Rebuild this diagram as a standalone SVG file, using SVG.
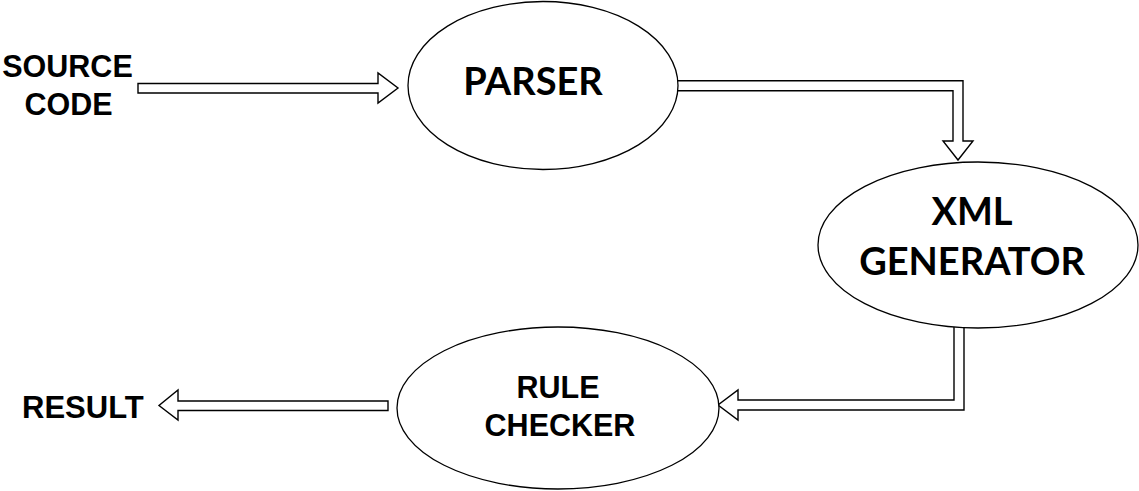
<svg xmlns="http://www.w3.org/2000/svg" width="1139" height="491" viewBox="0 0 1139 491">
<style>
.conn polygon { fill: #fff; stroke: #000; stroke-width: 1.4; stroke-linejoin: miter; }
.node ellipse { fill: #fff; stroke: #000; stroke-width: 1.3; }
.cal { font-family: Lato, "Open Sans", sans-serif; font-weight: bold; font-size: 38px; fill: #000; text-anchor: middle; }
.ari { font-family: "Liberation Sans", Arial, sans-serif; font-weight: bold; font-size: 30.5px; fill: #000; }
</style>
<rect width="1139" height="491" fill="#fff"/>
<g id="connectors" class="conn">
  <polygon points="138,83.5 378,83.5 378,73 398,88 378,103 378,93 138,93"/>
  <polygon points="676,80.7 963,80.7 963,141 973,141 958,160 943,141 953,141 953,90.7 676,90.7"/>
  <polygon points="964,326 964,410 738,410 738,420 718,405 738,390 738,400 954,400 954,326"/>
  <polygon points="388,401 178,401 178,390 159,405.5 178,420 178,410.5 388,410.5"/>
</g>
<g id="source-code">
  <text class="ari" x="67.5" y="77" text-anchor="middle">SOURCE</text>
  <text class="ari" x="68.5" y="115" text-anchor="middle">CODE</text>
</g>
<g id="parser" class="node">
  <ellipse cx="543" cy="85.5" rx="135" ry="84"/>
  <text class="cal" x="533" y="95">PARSER</text>
</g>
<g id="xml-generator" class="node">
  <ellipse cx="978" cy="245" rx="160" ry="83"/>
  <text class="cal" x="972" y="225">XML</text>
  <text class="cal" x="972" y="275">GENERATOR</text>
</g>
<g id="rule-checker" class="node">
  <ellipse cx="558" cy="408" rx="161" ry="81"/>
  <text class="ari" x="558" y="398" text-anchor="middle">RULE</text>
  <text class="ari" x="560" y="436" text-anchor="middle">CHECKER</text>
</g>
<g id="result">
  <text class="ari" x="22" y="418" style="font-size:31px">RESULT</text>
</g>
</svg>
